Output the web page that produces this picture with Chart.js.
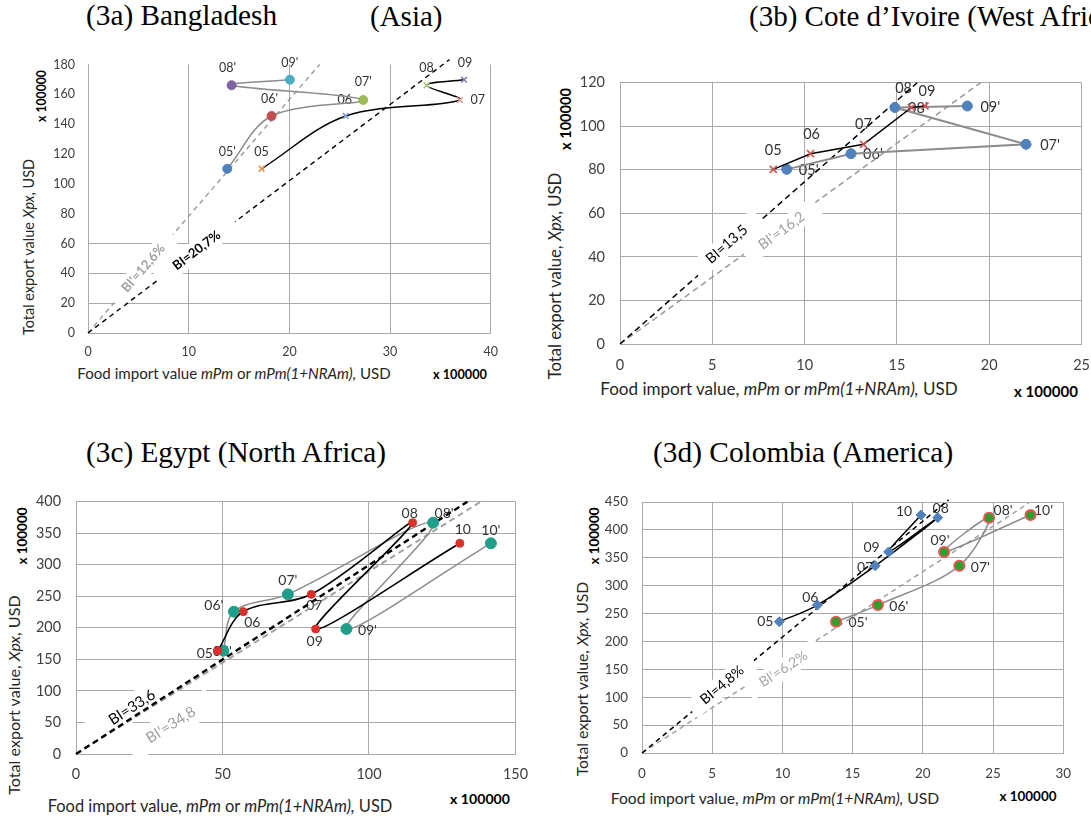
<!DOCTYPE html>
<html><head><meta charset="utf-8">
<script src="https://cdn.jsdelivr.net/npm/chart.js@4.4.1/dist/chart.umd.min.js"></script>
<style>
html,body{margin:0;padding:0;background:#fff;overflow:hidden;width:1091px;height:816px;}
body{position:relative;font-family:Lato,"Liberation Sans",sans-serif;color:#262626;}
canvas{position:absolute;}
.t{position:absolute;white-space:nowrap;line-height:1;}
.ptitle{font-family:"Liberation Serif","Times New Roman",serif;font-size:29px;color:#000;transform:translateY(-50%);}
.xt{transform:translate(-50%,-50%);font-size:15px;}
.yt{transform:translate(-50%,-50%) rotate(-90deg);font-size:15px;}
.mult{font-weight:bold;font-size:12px;color:#000;}
</style></head><body>

<div class="t ptitle" data-fit="191" style="left:86px;top:16px">(3a) Bangladesh</div>
<div class="t ptitle" data-fit="72" style="left:370px;top:16px">(Asia)</div>
<div class="t yt" data-fit="176" style="left:29px;top:247px">Total export value <i>Xpx</i>, USD</div>
<div class="t yt mult" data-fit="52" style="left:42px;top:96px">x 100000</div>
<div class="t xt" data-fit="313" style="left:234px;top:374px">Food import value <i>mPm</i> or <i>mPm(1+NRAm),</i> USD</div>
<div class="t xt mult" data-fit="54" style="left:460px;top:374px">x 100000</div>

<div class="t ptitle" style="left:749px;top:16px">(3b) Cote d’Ivoire (West Africa)</div>
<div class="t yt" data-fit="207" style="left:555px;top:276px">Total export value, <i>Xpx</i>, USD</div>
<div class="t yt mult" data-fit="62" style="left:566px;top:119px">x 100000</div>
<div class="t xt" data-fit="358" style="left:779px;top:389px">Food import value, <i>mPm</i> or <i>mPm(1+NRAm),</i> USD</div>
<div class="t xt mult" data-fit="64" style="left:1046px;top:392px">x 100000</div>

<div class="t ptitle" data-fit="300" style="left:86px;top:453px">(3c) Egypt (North Africa)</div>
<div class="t yt" data-fit="200" style="left:14px;top:695px">Total export value, <i>Xpx</i>, USD</div>
<div class="t yt mult" data-fit="57" style="left:23px;top:536px">x 100000</div>
<div class="t xt" data-fit="345" style="left:220px;top:806px">Food import value, <i>mPm</i> or <i>mPm(1+NRAm),</i> USD</div>
<div class="t xt mult" data-fit="60" style="left:480px;top:799px">x 100000</div>

<div class="t ptitle" data-fit="300" style="left:653px;top:453px">(3d) Colombia (America)</div>
<div class="t yt" data-fit="195" style="left:582px;top:679px">Total export value, <i>Xpx</i>, USD</div>
<div class="t yt mult" data-fit="57" style="left:595px;top:536px">x 100000</div>
<div class="t xt" data-fit="329" style="left:775px;top:799px">Food import value, <i>mPm</i> or <i>mPm(1+NRAm),</i> USD</div>
<div class="t xt mult" data-fit="57" style="left:1028px;top:797px">x 100000</div>

<script>
// ================= DATA (values in units of 100000 USD) =================
// (3a) Bangladesh
const bdYears      = ['05','06','07','08','09'];
const bdExports    = [110.1, 145.5, 156.2, 166.1, 169.8];
const bdImports    = [17.24, 25.6, 36.92, 33.62, 37.35];
const bdImportsAdj = [13.83, 18.23, 27.33, 14.26, 20.05];
const bdBILine     = [[0, 0], [35.9, 183.3]];
const bdBIAdjLine  = [[0, 0], [23.0, 180]];
const bdBIText     = 'BI=20,7%';
const bdBIAdjText  = "BI'=12,6%";
const bdXTicks     = [0, 10, 20, 30, 40];
const bdYTicks     = [0, 20, 40, 60, 80, 100, 120, 140, 160, 180];

// (3b) Cote d'Ivoire
const ciYears      = ['05','06','07','08','09'];
const ciExports    = [80.2, 87.4, 91.7, 108.6, 109.3];
const ciImports    = [8.30, 10.32, 13.19, 15.79, 16.52];
const ciImportsAdj = [9.03, 12.51, 21.99, 14.89, 18.81];
const ciBILine     = [[0, 0], [16.1, 120]];
const ciBIAdjLine  = [[0, 0], [19.53, 120]];
const ciBIText     = 'BI=13,5';
const ciBIAdjText  = "BI'=16,2";
const ciXTicks     = [0, 5, 10, 15, 20, 25];
const ciYTicks     = [0, 20, 40, 60, 80, 100, 120];

// (3c) Egypt
const egYears      = ['05','06','07','08','09','10'];
const egExports    = [163.8, 225.6, 253.1, 366.7, 198.2, 334.0];
const egImports    = [48.4, 57.1, 80.3, 114.9, 81.8, 131.0];
const egImportsAdj = [50.3, 53.9, 72.3, 121.9, 92.3, 141.6];
const egBILine     = [[0, 0], [133.6, 400]];
const egBIAdjLine  = [[0, 0], [138.2, 400]];
const egBIText     = 'BI=33,6';
const egBIAdjText  = "BI'=34,8";
const egXTicks     = [0, 50, 100, 150];
const egYTicks     = [0, 50, 100, 150, 200, 250, 300, 350, 400];

// (3d) Colombia
const coYears      = ['05','06','07','08','09','10'];
const coExports    = [235.4, 265.2, 335.6, 422.0, 360.6, 426.7];
const coImports    = [9.78, 12.49, 16.61, 21.06, 17.56, 19.87];
const coImportsAdj = [13.82, 16.80, 22.60, 24.72, 21.51, 27.67];
const coBILine     = [[0, 0], [21.84, 454]];
const coBIAdjLine  = [[0, 0], [27.55, 448]];
const coBIText     = 'BI=4,8%';
const coBIAdjText  = "BI'=6,2%";
const coXTicks     = [0, 5, 10, 15, 20, 25, 30];
const coYTicks     = [0, 50, 100, 150, 200, 250, 300, 350, 400, 450];

// ================= LAYOUT / STYLE =================
const GRID = '#a9a9a9';
const TICKC = '#404040';
const LBLC = '#333333';
const prime = a => a.map(s => s + "'");
const pts = (xs, ys) => xs.map((x, i) => ({x: x, y: ys[i]}));
const seg = l => l.map(p => ({x: p[0], y: p[1]}));

const panels = [
  { id: 'cA', area: [88, 65, 491, 333], xTicks: bdXTicks, yTicks: bdYTicks, hGridMax: 60,
    tickFont: 12.5, padX: 11, padY: 13, lblFont: 12.5,
    series: [
      { data: pts(bdImports, bdExports), line: '#000', width: 1.5, tension: 0.35, style: 'crossRot', radius: 4, pbw: 1.6,
        fill: ['#f79646','#7a9bd0','#e39a98','#a9c97a','#8a7db3'], stroke: ['#f79646','#7a9bd0','#e39a98','#a9c97a','#8a7db3'],
        labels: bdYears, offsets: [[0,-17],[-1,-16],[18,0],[0,-17],[1,-17]] },
      { data: pts(bdImportsAdj, bdExports), line: '#8c8c8c', width: 1.5, tension: 0.35, style: 'circle', radius: 4.5, pbw: 1,
        fill: ['#4f81bd','#c0504d','#9bbb59','#8064a2','#4bacc6'], stroke: ['#4f81bd','#c0504d','#9bbb59','#8064a2','#4bacc6'],
        labels: prime(bdYears), offsets: [[0,-17],[-2,-17],[0,-18],[-4,-17],[0,-17]] }
    ],
    refs: [ { data: seg(bdBILine), color: '#000', width: 1.4, dash: [5,4] },
            { data: seg(bdBIAdjLine), color: '#9a9a9a', width: 1.4, dash: [5,4] } ],
    biLayer: 'after',
    bi: [ { ref: 1, x: 5.49, y: 43.4, text: bdBIAdjText, color: '#a0a0a0', font: 'bold 13px Lato', w: 90, h: 19 },
          { ref: 0, x: 10.78, y: 55.3, text: bdBIText, color: '#000', font: 'bold 13px Lato', w: 96, h: 20 } ] },

  { id: 'cB', area: [620, 83, 1082, 344], xTicks: ciXTicks, yTicks: ciYTicks, hGridMax: 1e9,
    tickFont: 14.5, padX: 13, padY: 15, lblFont: 14.5,
    series: [
      { data: pts(ciImports, ciExports), line: '#000', width: 1.5, tension: 0, style: 'crossRot', radius: 5, pbw: 1.6,
        fill: '#d0504d', stroke: '#d0504d',
        labels: ciYears, offsets: [[0,-19],[1,-19],[0,-20],[-8,-19],[2,-15]] },
      { data: pts(ciImportsAdj, ciExports), line: '#8c8c8c', width: 2, tension: 0, style: 'circle', radius: 5, pbw: 1,
        fill: '#4f81bd', stroke: '#4f81bd',
        labels: prime(ciYears), offsets: [[22,1],[22,1],[24,1],[23,1],[23,1]] }
    ],
    refs: [ { data: seg(ciBILine), color: '#000', width: 1.5, dash: [6,4] },
            { data: seg(ciBIAdjLine), color: '#9a9a9a', width: 1.5, dash: [6,4] } ],
    biLayer: 'after',
    bi: [ { ref: 1, x: 8.75, y: 52.0, text: ciBIAdjText, color: '#a0a0a0', font: '14.5px Lato', w: 88, h: 20 },
          { ref: 0, x: 5.78, y: 45.8, text: ciBIText, color: '#000', font: '14.5px Lato', w: 84, h: 20 } ] },

  { id: 'cC', area: [76, 502, 515, 754], xTicks: egXTicks, yTicks: egYTicks, hGridMax: 1e9,
    tickFont: 14.4, padX: 12, padY: 15, lblFont: 14,
    series: [
      { data: pts(egImports, egExports), line: '#000', width: 1.6, tension: 0.35, style: 'circle', radius: 4, pbw: 1,
        fill: '#d9302c', stroke: '#d9302c',
        labels: egYears, offsets: [[-13,3],[9,11],[3,11],[-3,-9],[-1,13],[3,-14]] },
      { data: pts(egImportsAdj, egExports), line: '#8c8c8c', width: 1.5, tension: 0.35, style: 'circle', radius: 5.5, pbw: 1,
        fill: '#1f9e89', stroke: '#1f9e89',
        labels: prime(egYears), offsets: [[-1,1],[-20,-6],[0,-14],[11,-9],[21,2],[0,-13]] }
    ],
    refs: [ { data: seg(egBILine), color: '#000', width: 2.4, dash: [6,4] },
            { data: seg(egBIAdjLine), color: '#a0a0a0', width: 2, dash: [6,4] } ],
    biLayer: 'before',
    bi: [ { ref: 1, x: 32.4, y: 46, text: egBIAdjText, color: '#a0a0a0', font: '15px Lato', w: 96, h: 26 },
          { ref: 0, x: 19.1, y: 74, text: egBIText, color: '#000', font: '15px Lato', w: 96, h: 26 } ] },

  { id: 'cD', area: [642, 502, 1063, 753], xTicks: coXTicks, yTicks: coYTicks, hGridMax: 1e9,
    tickFont: 13.4, padX: 13, padY: 14, lblFont: 14,
    series: [
      { data: pts(coImports, coExports), line: '#000', width: 1.5, tension: 0.35, style: 'rectRot', radius: 5, pbw: 1,
        fill: '#4f81bd', stroke: '#4f81bd',
        labels: coYears, offsets: [[-14,0],[-7,-8],[-10,2],[3,-9],[-17,-4],[-17,-4]] },
      { data: pts(coImportsAdj, coExports), line: '#8c8c8c', width: 1.5, tension: 0.35, style: 'circle', radius: 5, pbw: 2,
        fill: '#2ca02c', stroke: '#e8544f',
        labels: prime(coYears), offsets: [[22,1],[21,1],[21,2],[14,-7],[-4,-11],[13,-5]] }
    ],
    refs: [ { data: seg(coBILine), color: '#000', width: 1.5, dash: [5,4] },
            { data: seg(coBIAdjLine), color: '#a0a0a0', width: 1.5, dash: [5,4] } ],
    biLayer: 'after',
    bi: [ { ref: 1, x: 10.07, y: 150.7, text: coBIAdjText, color: '#a8a8a8', font: '14px Lato', w: 84, h: 20 },
          { ref: 0, x: 5.71, y: 122, text: coBIText, color: '#000', font: '14px Lato', w: 80, h: 20 } ] }
];

// ================= PLUGIN =================
const PANEL = {};
function drawBI(chart, p) {
  const ctx = chart.ctx, xs = chart.scales.x, ys = chart.scales.y;
  p.bi.forEach(b => {
    const m = chart.getDatasetMeta(p.series.length + b.ref).data;
    const ang = Math.atan2(m[1].y - m[0].y, m[1].x - m[0].x);
    const cx = xs.getPixelForValue(b.x), cy = ys.getPixelForValue(b.y);
    ctx.save();
    ctx.translate(cx, cy); ctx.rotate(ang);
    ctx.fillStyle = '#fff';
    ctx.fillRect(-b.w / 2, -b.h / 2, b.w, b.h);
    ctx.fillStyle = b.color; ctx.font = b.font;
    ctx.textAlign = 'center'; ctx.textBaseline = 'middle';
    ctx.fillText(b.text, 0, 0);
    ctx.restore();
  });
}
function drawPtLabels(chart, p) {
  const ctx = chart.ctx;
  ctx.save();
  ctx.font = p.lblFont + 'px Lato';
  ctx.fillStyle = LBLC; ctx.textAlign = 'center'; ctx.textBaseline = 'middle';
  p.series.forEach((s, i) => {
    const m = chart.getDatasetMeta(i).data;
    s.labels.forEach((t, j) => ctx.fillText(t, m[j].x + s.offsets[j][0], m[j].y + s.offsets[j][1]));
  });
  ctx.restore();
}
const annot = {
  id: 'annot',
  beforeDatasetsDraw(chart) {
    const p = PANEL[chart.canvas.id];
    if (p.biLayer === 'before') drawBI(chart, p);
    drawPtLabels(chart, p);
  },
  afterDatasetsDraw(chart) {
    const p = PANEL[chart.canvas.id];
    if (p.biLayer !== 'before') drawBI(chart, p);
  }
};

// ================= BUILD =================
const YW = 50, XH = 36, PT = 14, PR = 16;
function build(p, g) {
  const cv = document.createElement('canvas');
  cv.id = p.id; cv.width = g.w; cv.height = g.h;
  cv.style.left = g.left + 'px'; cv.style.top = g.top + 'px';
  cv.style.width = g.w + 'px'; cv.style.height = g.h + 'px';
  document.body.appendChild(cv);

  const datasets = [];
  p.series.forEach(s => datasets.push({
    data: s.data, showLine: true, borderColor: s.line, borderWidth: s.width, tension: s.tension,
    pointStyle: s.style, pointRadius: s.radius, pointBorderWidth: s.pbw,
    pointBackgroundColor: s.fill, pointBorderColor: s.stroke, fill: false
  }));
  p.refs.forEach(r => datasets.push({
    data: r.data, showLine: true, borderColor: r.color, borderWidth: r.width, borderDash: r.dash,
    pointRadius: 0, tension: 0, fill: false, clip: false
  }));

  const xt = p.xTicks, yt = p.yTicks;
  return new Chart(cv, {
    type: 'scatter',
    data: { datasets: datasets },
    options: {
      responsive: false, maintainAspectRatio: false, animation: false, devicePixelRatio: 1,
      layout: { padding: { top: PT, right: PR, left: 0, bottom: 0 } },
      plugins: { legend: { display: false }, tooltip: { enabled: false } },
      elements: { line: { capBezierPoints: true } },
      scales: {
        x: {
          type: 'linear', min: xt[0], max: xt[xt.length - 1],
          afterBuildTicks: s => { s.ticks = xt.map(v => ({ value: v })); },
          afterFit: s => { s.height = XH; },
          grid: { color: GRID, lineWidth: 1, drawTicks: false },
          border: { color: GRID, width: 1 },
          ticks: { padding: p.padX, color: TICKC, font: { family: 'Lato', size: p.tickFont }, maxRotation: 0 }
        },
        y: {
          type: 'linear', min: yt[0], max: yt[yt.length - 1],
          afterBuildTicks: s => { s.ticks = yt.map(v => ({ value: v })); },
          afterFit: s => { s.width = YW; },
          grid: { color: c => (c.tick && c.tick.value > p.hGridMax) ? 'rgba(0,0,0,0)' : GRID, lineWidth: 1, drawTicks: false },
          border: { color: GRID, width: 1 },
          ticks: { padding: p.padY, color: TICKC, font: { family: 'Lato', size: p.tickFont } }
        }
      }
    },
    plugins: [annot]
  });
}

panels.forEach(p => {
  PANEL[p.id] = p;
  const [L, T, R, B] = p.area;
  let g = { left: L - YW, top: T - PT };
  g.w = R - g.left + PR; g.h = B + XH - g.top;
  let ch = build(p, g);
  // move/resize the canvas so the plot area lands on the intended box
  for (let k = 0; k < 3; k++) {
    const ca = ch.chartArea;
    const dL = Math.round(g.left + ca.left - L);
    const dT = Math.round(g.top + ca.top - T);
    const dR = Math.round(R - (g.left + ca.right));
    const dB = Math.round(B - (g.top + ca.bottom));
    if (!dL && !dT && !dR && !dB) break;
    g = { left: g.left - dL, top: g.top - dT, w: g.w + dL + dR, h: g.h + dT + dB };
    const old = ch.canvas;
    ch.destroy(); old.remove();
    ch = build(p, g);
  }
});

// fit html text to measured widths
document.querySelectorAll('[data-fit]').forEach(el => {
  const target = +el.dataset.fit;
  const fs = parseFloat(getComputedStyle(el).fontSize);
  const w = el.offsetWidth;
  if (w > 0) el.style.fontSize = (fs * target / w).toFixed(2) + 'px';
});
</script>
</body></html>
